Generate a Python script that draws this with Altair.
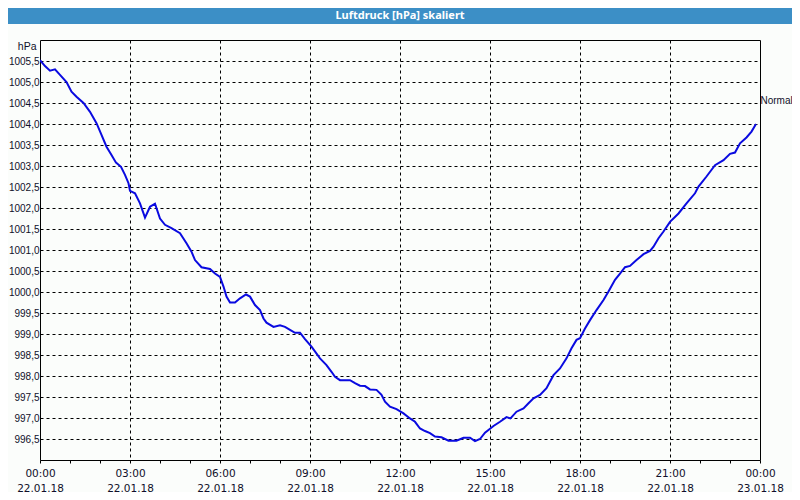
import altair as alt
import pandas as pd

# time of day in minutes since 00:00 on 22.01.18, and pressure in hPa
minutes = [0, 10, 20, 30, 40, 53, 63, 73, 87, 100,
           113, 123, 133, 143, 152, 162, 170, 177, 180, 190,
           200, 210, 220, 230, 240, 250, 263, 280, 293, 303,
           310, 323, 340, 350, 360, 367, 373, 380, 390, 400,
           412, 420, 430, 440, 447, 453, 467, 480, 490, 500,
           510, 520, 530, 543, 560, 573, 583, 590, 600, 620,
           630, 640, 650, 660, 673, 683, 690, 700, 713, 727,
           740, 750, 760, 770, 780, 790, 803, 817, 833, 847,
           860, 870, 880, 890, 907, 920, 933, 941, 953, 967,
           977, 987, 1000, 1013, 1027, 1040, 1053, 1063, 1073, 1080,
           1090, 1100, 1113, 1127, 1137, 1150, 1160, 1170, 1180, 1193,
           1207, 1220, 1227, 1237, 1247, 1260, 1277, 1293, 1310, 1317,
           1333, 1350, 1367, 1380, 1390, 1400, 1413, 1423, 1432]
pressure = [1005.52, 1005.38, 1005.27, 1005.30, 1005.17, 1005.00, 1004.77, 1004.65, 1004.50, 1004.29,
            1004.02, 1003.74, 1003.46, 1003.26, 1003.08, 1002.98, 1002.79, 1002.59, 1002.41, 1002.35,
            1002.11, 1001.77, 1002.03, 1002.10, 1001.75, 1001.60, 1001.52, 1001.40, 1001.16, 1000.96,
            1000.76, 1000.59, 1000.55, 1000.44, 1000.36, 1000.13, 999.89, 999.75, 999.75, 999.85,
            999.94, 999.89, 999.69, 999.57, 999.37, 999.27, 999.17, 999.21, 999.17, 999.10,
            999.03, 999.03, 998.88, 998.70, 998.42, 998.26, 998.10, 997.98, 997.90, 997.90,
            997.83, 997.77, 997.76, 997.68, 997.67, 997.55, 997.39, 997.27, 997.21, 997.11,
            996.99, 996.91, 996.75, 996.69, 996.64, 996.56, 996.54, 996.46, 996.46, 996.53,
            996.53, 996.45, 996.50, 996.65, 996.81, 996.91, 997.02, 996.99, 997.15, 997.23,
            997.35, 997.47, 997.55, 997.71, 998.02, 998.18, 998.42, 998.66, 998.86, 998.90,
            999.13, 999.33, 999.57, 999.81, 1000.01, 1000.29, 1000.44, 1000.59, 1000.62, 1000.76,
            1000.90, 1000.98, 1001.08, 1001.28, 1001.44, 1001.67, 1001.87, 1002.11, 1002.35, 1002.51,
            1002.75, 1003.02, 1003.14, 1003.29, 1003.32, 1003.54, 1003.68, 1003.82, 1004.00]

hour_ticks = [0, 1, 2, 3, 4, 5, 6, 7, 8, 9, 10, 11, 12, 13, 14, 15, 16, 17, 18, 19, 20, 21, 22, 23, 24]
y_ticks = [996.5, 997.0, 997.5, 998.0, 998.5, 999.0, 999.5, 1000.0, 1000.5, 1001.0,
           1001.5, 1002.0, 1002.5, 1003.0, 1003.5, 1004.0, 1004.5, 1005.0, 1005.5]
title_text = ["Luftdruck [hPa] skaliert"]
normal_label = ["Normal"]
normal_value = [1004.55]

FONT = "DejaVu Sans"
NARROW = "Liberation Sans"
LINE_BLUE = "#0a0ae0"
BAR_BLUE = "#3c8fc6"
TXT = "#10102a"

df = pd.DataFrame({"hour": [m / 60 for m in minutes], "hPa": pressure})

x_enc = alt.X(
    "hour:Q",
    scale=alt.Scale(domain=[0, 24], nice=False, zero=False),
    axis=alt.Axis(
        values=hour_ticks,
        title=None,
        labelExpr=(
            "datum.value % 3 == 0 ? ["
            "(datum.value == 24 ? '00' : (datum.value < 10 ? '0' + datum.value : '' + datum.value)) + ':00', "
            "datum.value == 24 ? '23.01.18' : '22.01.18'] : ''"
        ),
        grid=True,
        gridColor="black",
        gridDash=[3, 3],
        gridOpacity={"condition": {"test": "datum.value % 3 === 0 && datum.value > 0 && datum.value < 24",
                                   "value": 1}, "value": 0},
        tickColor="black",
        tickSize=3,
        domain=False,
        labelFlush=False,
        labelOverlap=False,
        labelBound=False,
        labelPadding=5,
        labelLineHeight=15,
        labelFont=FONT,
        labelFontSize=10.5,
        labelColor=TXT,
    ),
)

y_axis = alt.Axis(
    values=y_ticks,
    labelExpr="replace(format(datum.value, '.1f'), '.', ',')",
    grid=True,
    gridColor="black",
    gridDash=[3, 3],
    ticks=False,
    domain=False,
    labelOverlap=False,
    labelBound=False,
    labelPadding=1,
    labelFont=NARROW,
    labelFontSize=10,
    labelColor=TXT,
    title="hPa",
    titleAngle=0,
    titleX=-4,
    titleY=6,
    titleAlign="right",
    titleBaseline="middle",
    titleFont=NARROW,
    titleFontSize=10.5,
    titleFontWeight="normal",
    titleColor=TXT,
)
y_scale = alt.Scale(domain=[996, 1006], nice=False, zero=False)

line = alt.Chart(df).mark_line(color=LINE_BLUE, strokeWidth=2, clip=True).encode(
    x=x_enc, y=alt.Y("hPa:Q", scale=y_scale, axis=y_axis)
)

normal = alt.Chart(pd.DataFrame({"label": normal_label, "hPa": normal_value})).mark_text(
    align="left", baseline="middle", font=NARROW, fontSize=10, color=TXT
).encode(x=alt.value(720.5), y=alt.Y("hPa:Q", scale=y_scale, axis=y_axis), text="label:N")

bar = alt.Chart(pd.DataFrame({"t": title_text})).mark_rect(color=BAR_BLUE).encode(
    x=alt.value(-32), x2=alt.value(752), y=alt.value(-32), y2=alt.value(-16)
)
bar_text = alt.Chart(pd.DataFrame({"t": title_text})).mark_text(
    align="center", baseline="middle", font="Noto Sans", fontSize=11, fontWeight="bold", color="white"
).encode(x=alt.value(360), y=alt.value(-24), text="t:N")

chart = (
    alt.layer(bar, bar_text, line, normal)
    .properties(width=720, height=420, autosize=alt.AutoSizeParams(type="none"),
                padding={"left": 32, "top": 32, "right": 32, "bottom": 32})
    .configure(background="#fbfdfb")
    .configure_view(stroke="black", strokeWidth=1)
    .configure_axisY(labelOverlap=False)
)

chart.save("out.html", embed_options={"renderer": "svg", "actions": False})
